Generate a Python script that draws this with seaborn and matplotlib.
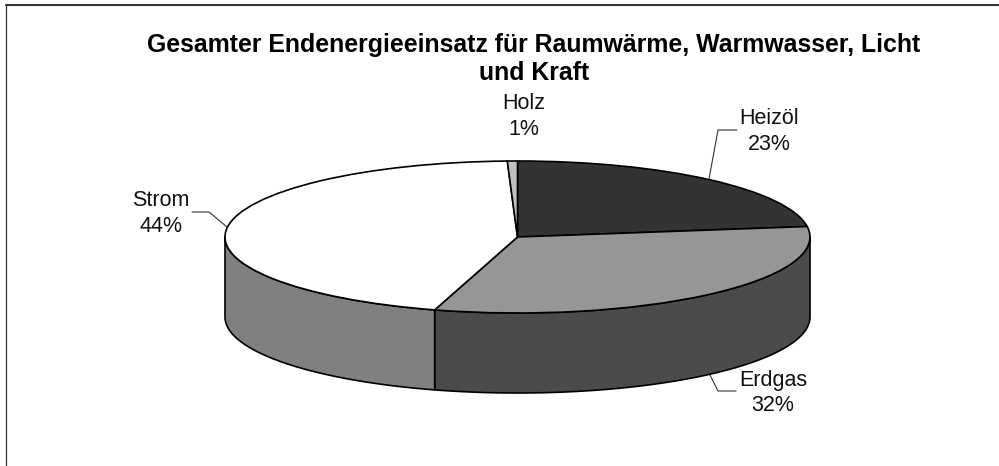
import numpy as np
import matplotlib
matplotlib.use("Agg")
import matplotlib.pyplot as plt
import seaborn as sns

# Data
categories = ["Heizöl", "Erdgas", "Strom", "Holz"]
shares = [22.6, 31.5, 44.49, 0.55]
title = "Gesamter Endenergieeinsatz für Raumwärme, Warmwasser, Licht\nund Kraft"

# Style
top_colors = sns.color_palette(["#333333", "#969696", "#ffffff", "#c0c0c0"])
wall_colors = {"Erdgas": "#4b4b4b", "Strom": "#808080"}
sns.set_theme(style="white")
plt.rcParams["font.family"] = ["Liberation Sans", "DejaVu Sans"]

W, H = 999, 466
fig = plt.figure(figsize=(W / 100, H / 100), dpi=100, facecolor="white")

# Overlay axes in pixel space for frame, labels and leader lines
chrome = fig.add_axes([0, 0, 1, 1], zorder=3)
chrome.set_xlim(0, W)
chrome.set_ylim(H, 0)
chrome.axis("off")
chrome.patch.set_alpha(0)

# Pie axes: unit circle mapped on to the ellipse of the pie top
left, right, top, front = 225.0, 810.0, 161.0, 313.0
depth_px = 80.0
depth = depth_px / ((front - top) / 2)
ax = fig.add_axes([left / W, 1 - (front + depth_px) / H, (right - left) / W,
                   (front + depth_px - top) / H], zorder=2)
ax.pie(shares, radius=1, startangle=90, counterclock=False, colors=top_colors,
       wedgeprops=dict(edgecolor="black", linewidth=1.2, clip_on=False), frame=True)
ax.set_aspect("auto")
ax.set_xlim(-1, 1)
ax.set_ylim(-1 - depth, 1)
ax.set_xticks([])
ax.set_yticks([])
for s in ax.spines.values():
    s.set_visible(False)
ax.patch.set_alpha(0)

# Side wall: visible on the front half of the rim (clockwise angle from the top)
total = sum(shares)
edges = np.concatenate([[0], np.cumsum(shares)]) / total * 2 * np.pi
for name, a0, a1 in zip(categories, edges[:-1], edges[1:]):
    lo, hi = max(a0, np.pi / 2), min(a1, 3 * np.pi / 2)
    if hi <= lo:
        continue
    t = np.linspace(lo, hi, 120)
    x, y = np.sin(t), np.cos(t)
    ax.fill(np.r_[x, x[::-1]], np.r_[y, y[::-1] - depth],
            facecolor=wall_colors[name], edgecolor="black", linewidth=1.2,
            joinstyle="round", zorder=0.5, clip_on=False)

# Title
chrome.text(534, 59, title, ha="center", va="center", fontsize=17.9, fontweight="bold",
            color="black", linespacing=1.24)

# Frame
chrome.plot([6.2, 6.2], [H, 5], color="#333333", lw=0.9, clip_on=False)
chrome.plot([6, W], [5, 5], color="#333333", lw=1.5, clip_on=False)

# Data labels
label_pos = {"Heizöl": (769, 131.5), "Erdgas": (773, 393), "Strom": (161, 213.5), "Holz": (524, 116.5)}
for name, share in zip(categories, shares):
    px, py = label_pos[name]
    chrome.text(px, py, f"{name}\n{share:.0f}%", ha="center", va="center", fontsize=15.5,
                color="#111111", linespacing=1.3)

# Leader lines
leaders = [([709, 718, 737], [179, 130, 130]),
           ([192, 209, 227], [212, 212, 227]),
           ([710, 718, 736], [375, 391, 391])]
for lx, ly in leaders:
    chrome.plot(lx, ly, color="#333333", lw=0.8)

fig.savefig("out.png", dpi=100)
